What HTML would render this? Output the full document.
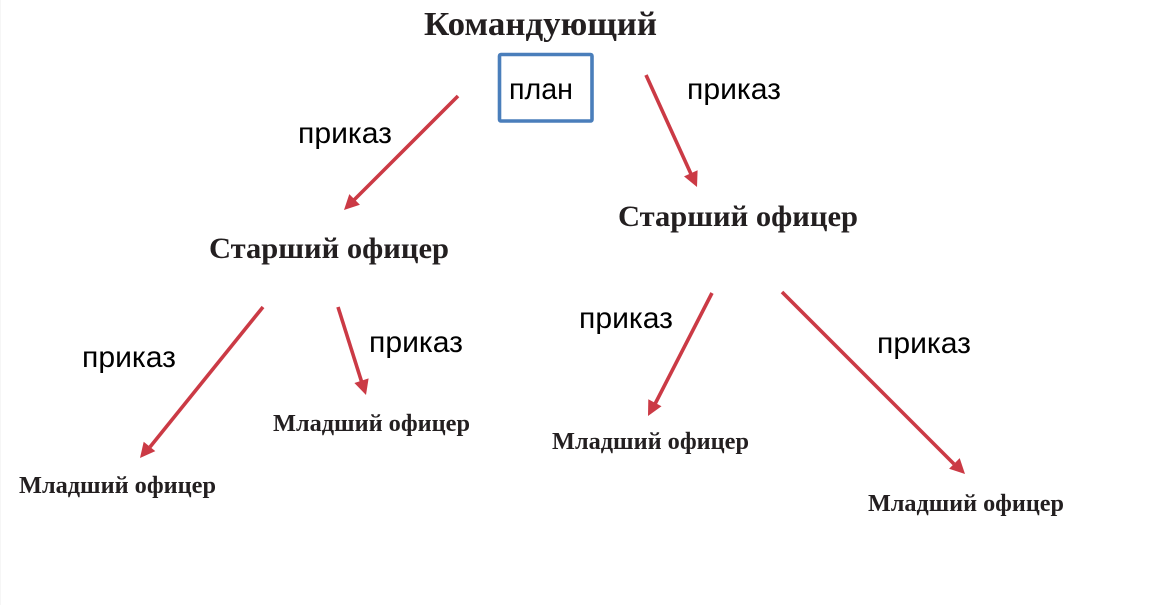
<!DOCTYPE html>
<html><head><meta charset="utf-8"><style>
html,body{margin:0;padding:0;background:#fff;width:1160px;height:605px;overflow:hidden}
svg{display:block}
.s{font-family:"Liberation Serif",serif;font-weight:bold;fill:#231f20}
.a{font-family:"Liberation Sans",sans-serif;font-size:30px;fill:#000}
</style></head><body>
<svg width="1160" height="605" viewBox="0 0 1160 605" xmlns="http://www.w3.org/2000/svg">
<rect x="0" y="0" width="1" height="605" fill="#f6f6f6"/>
<rect x="499.5" y="54.5" width="92.5" height="66.5" rx="1.5" fill="#fff" stroke="#4a7ebb" stroke-width="3.6"/>
<g stroke="#cb3a45" stroke-width="3.6" fill="none">
<line x1="458" y1="96" x2="353" y2="201"/>
<line x1="646" y1="75" x2="691" y2="174"/>
<line x1="263" y1="307" x2="150" y2="447"/>
<line x1="338" y1="307" x2="362" y2="383"/>
<line x1="712" y1="293" x2="655" y2="404"/>
<line x1="782" y1="292" x2="954" y2="464"/>
</g>
<g fill="#cb3a45">
<polygon points="344,210 359.9,204.7 349.3,194.1"/>
<polygon points="697,187 697.6,170.2 684,176.4"/>
<polygon points="140,458 155.3,451.1 143.7,441.7"/>
<polygon points="366,395 368.6,378.4 354.4,383"/>
<polygon points="648,416 661.5,406.2 648.3,399.2"/>
<polygon points="965,474 959.7,458.1 949.1,468.7"/>
</g>
<text class="s" x="424" y="35" font-size="34" textLength="233" lengthAdjust="spacingAndGlyphs">Командующий</text>
<text class="s" x="618" y="226" font-size="30" textLength="240" lengthAdjust="spacingAndGlyphs">Старший офицер</text>
<text class="s" x="209" y="258" font-size="30" textLength="240" lengthAdjust="spacingAndGlyphs">Старший офицер</text>
<text class="s" x="19" y="493" font-size="24.5" textLength="197" lengthAdjust="spacingAndGlyphs">Младший офицер</text>
<text class="s" x="273" y="431" font-size="24.5" textLength="197" lengthAdjust="spacingAndGlyphs">Младший офицер</text>
<text class="s" x="552" y="449" font-size="24.5" textLength="197" lengthAdjust="spacingAndGlyphs">Младший офицер</text>
<text class="s" x="868" y="511" font-size="24.5" textLength="196" lengthAdjust="spacingAndGlyphs">Младший офицер</text>
<text class="a" x="509" y="99" textLength="64" lengthAdjust="spacingAndGlyphs">план</text>
<text class="a" x="687" y="99" textLength="94" lengthAdjust="spacingAndGlyphs">приказ</text>
<text class="a" x="298" y="143" textLength="94" lengthAdjust="spacingAndGlyphs">приказ</text>
<text class="a" x="82" y="367" textLength="94" lengthAdjust="spacingAndGlyphs">приказ</text>
<text class="a" x="369" y="352" textLength="94" lengthAdjust="spacingAndGlyphs">приказ</text>
<text class="a" x="579" y="328" textLength="94" lengthAdjust="spacingAndGlyphs">приказ</text>
<text class="a" x="877" y="353" textLength="94" lengthAdjust="spacingAndGlyphs">приказ</text>
</svg>
</body></html>
